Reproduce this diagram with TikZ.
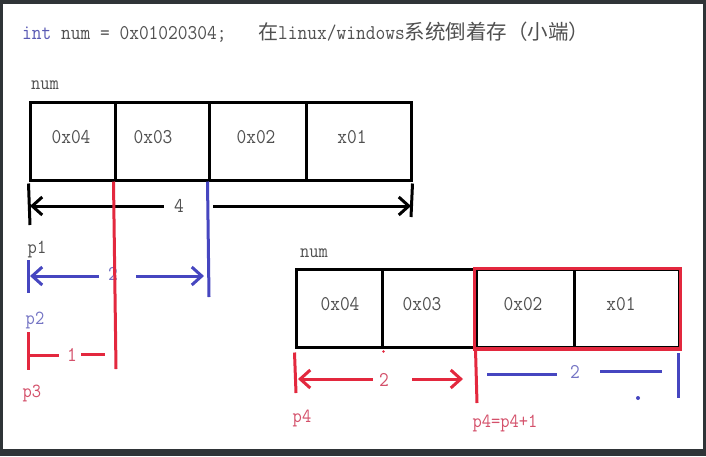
\documentclass[tikz,border=0pt]{standalone}
\usepackage{fontspec}
\newfontfamily\cjk{Noto Sans CJK SC}
\newfontfamily\codefont[FakeStretch=0.9]{Latin Modern Mono}
\usetikzlibrary{arrows.meta}
\definecolor{framecol}{HTML}{2F3437}
\definecolor{myred}{HTML}{E3283E}
\definecolor{myblue}{HTML}{4646C0}
\definecolor{txtgray}{HTML}{505050}
\definecolor{kwblue}{HTML}{5A5AB4}
\definecolor{redtxt}{HTML}{D4506A}
\definecolor{bluetxt}{HTML}{7474C4}
\begin{document}
\begin{tikzpicture}[x=1pt,y=-1pt,
  mono/.style={font=\codefont\fontsize{21}{21}\selectfont, inner sep=0pt},
  cell/.style={draw=black, line width=3pt, inner sep=0pt, minimum height=78pt},
  val/.style={mono, text=txtgray},
  lbl/.style={mono, font=\codefont\fontsize{20}{20}\selectfont, text=#1},
  wline/.style={line width=3pt},
  arr/.style={-{Straight Barb[length=10pt,width=18pt]}},
]
\fill[framecol] (0,0) rectangle (706,456);
\fill[white] (3,4) rectangle (703,449);
\useasboundingbox (0,0) rectangle (706,456);

% title
\node[mono, anchor=base west] (code) at (22,39.5)
  {\textcolor{kwblue}{int} \textcolor{txtgray}{num = 0x01020304;}};
\node[anchor=base west, inner sep=0pt, text=txtgray] (note) at (258,39.5)
  {{\cjk\fontsize{20}{20}\selectfont 在}{\codefont\fontsize{21}{21}\selectfont linux/windows}{\cjk\fontsize{20.5}{20}\selectfont 系统倒着存（小端）}};

% ---- box 1
\node[lbl=txtgray] (num1) at (45,85) {num};
\node[cell, minimum width=85pt]  (a1) at (72.5,141) {};
\node[cell, minimum width=94pt]  (a2) at (162,141) {};
\node[cell, minimum width=97pt]  (a3) at (257.5,141) {};
\node[cell, minimum width=105pt] (a4) at (358.5,141) {};
\node[val] (v1) at (71,137) {0x04};
\node[val] (v2) at (153,137) {0x03};
\node[val] (v3) at (256,137) {0x02};
\node[val] (v4) at (352,137) {x01};

% dimension 4
\coordinate (k1) at (30,225);
\coordinate (k2) at (411,217);
\draw[wline] ([yshift=-2pt]a1.south west) -- (k1);
\draw[wline] ([yshift=-2pt]a4.south east) -- (k2);
\node[val] (n4) at (179,206) {4};
\draw[wline,arr] ([xshift=-10pt]n4.west) -- (n4.west -| k1);
\draw[wline,arr] ([xshift=29pt]n4.east) -- (n4.east -| k2);

% blue p1 section
\node[lbl=txtgray] (p1) at (37,249) {p1};
\coordinate (bt1) at (28,260);
\coordinate (bt2) at (28,293);
\draw[wline, myblue] (bt1) -- (bt2);
\node[mono, text=bluetxt] (n2a) at (113,274) {2};
\coordinate (bl) at (30,276);
\coordinate (bvend) at (209,297);
\draw[wline, myblue] (a3.south west) -- (bvend);
\draw[wline, myblue, arr] ([xshift=-9pt]n2a.west |- bl) -- (bl);
\draw[wline, myblue, arr] ([xshift=18pt]n2a.east |- bl) -- ([xshift=-5pt]bl -| bvend);

% red p2/p3 section
\node[lbl=bluetxt] (p2) at (35,320) {p2};
\coordinate (rt1) at (28,332);
\coordinate (rt2) at (28,370);
\draw[wline, myred] (rt1) -- (rt2);
\node[mono, text=redtxt] (n1) at (72,355) {1};
\coordinate (rl) at (28,355);
\draw[wline, myred] ([xshift=-8pt]n1.west |- rl) -- (rl);
\draw[wline, myred] ([xshift=4pt,yshift=1pt]n1.east |- rl) -- ++(24,0);
\coordinate (rvend) at (116,369);
\draw[wline, myred] (a2.south west) -- (rvend);
\node[lbl=redtxt] (p3) at (32,393) {p3};

% ---- box 2
\node[lbl=txtgray] (num2) at (314,253) {num};
\node[cell, minimum width=86pt]  (b1) at (339,308) {};
\node[cell, minimum width=94pt]  (b2) at (429,308) {};
\node[cell, minimum width=98pt]  (b3) at (525,308) {};
\node[cell, minimum width=105pt] (b4) at (626.5,308) {};
\draw[myred, line width=3.5pt] ([yshift=-1pt]b3.north west) rectangle ([yshift=-0.5pt]b4.south east);
\node[val] (w1) at (340,304) {0x04};
\node[val] (w2) at (422,304) {0x03};
\node[val] (w3) at (523,304) {0x02};
\node[val] (w4) at (621,304) {x01};
\fill[myred] ([yshift=-3pt]b1.south east) circle (1.3pt);

% red 2 under box 2
\coordinate (qt) at (296,393);
\draw[wline, myred] ([yshift=-4pt]b1.south west) -- (qt);
\node[mono, text=redtxt] (n2b) at (384,380) {2};
\coordinate (ql) at (298,379);
\coordinate (qvend) at (477,403);
\draw[wline, myred] ([xshift=1pt,yshift=-1pt]b3.south west) -- (qvend);
\draw[wline, myred, arr] ([xshift=-6pt]n2b.west |- ql) -- (ql);
\draw[wline, myred, arr] ([xshift=23pt]n2b.east |- ql) -- ([xshift=-14pt]ql -| qvend);

% blue 2 under box 2
\node[mono, text=bluetxt] (n2c) at (575,372) {2};
\coordinate (cl) at (487,374);
\coordinate (cl2) at (557,374);
\coordinate (cr1) at (600,371);
\coordinate (cr) at (662,371);
\draw[wline, myblue] (cl) -- (cl2);
\draw[wline, myblue] (cr1) -- (cr);
\coordinate (ct) at (678,353);
\coordinate (cb) at (678,398);
\draw[wline, myblue] (ct) -- (cb);
\coordinate (dot) at (638,398);
\fill[myblue] (dot) circle (2pt);

\node[lbl=redtxt] (p4) at (302,418) {p4};
\node[lbl=redtxt] (p4b) at (505,423) {p4=p4+1};
\end{tikzpicture}
\end{document}
